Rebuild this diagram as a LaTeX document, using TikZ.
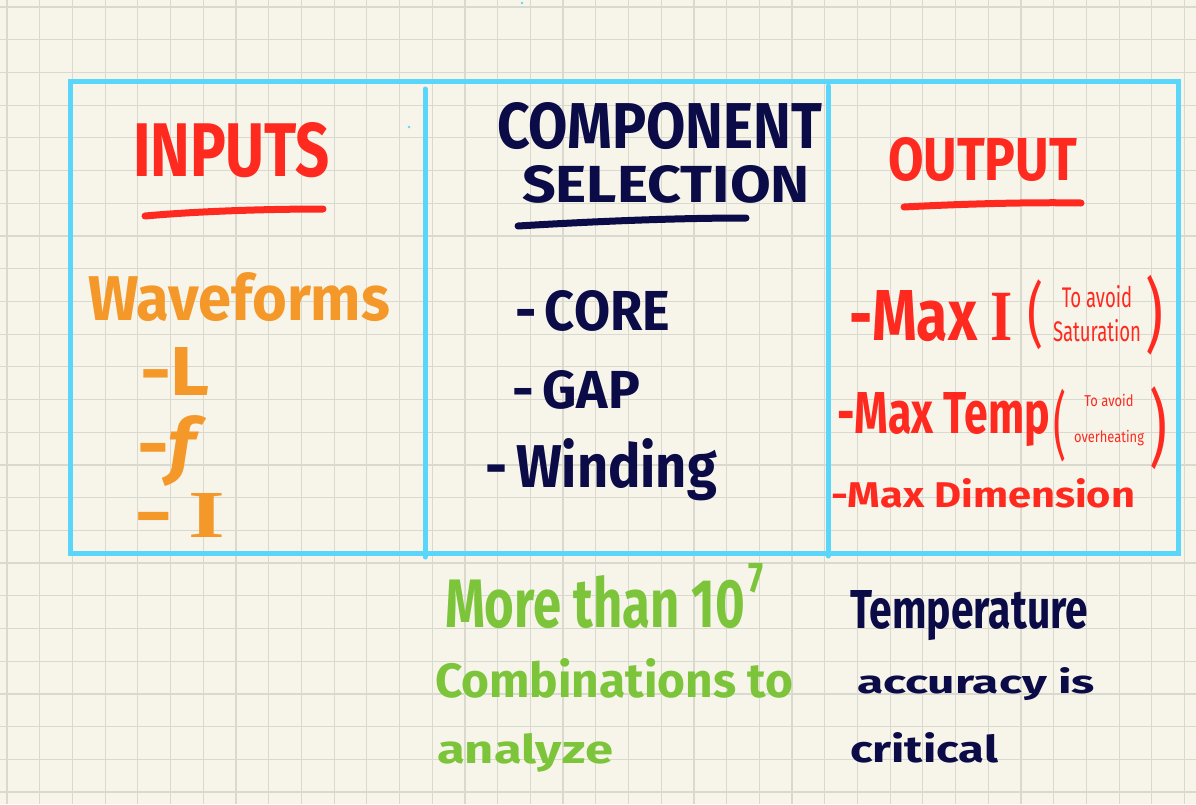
\documentclass[tikz,border=0pt]{standalone}
\usepackage{fontspec}
\setmainfont{Fira Sans}
\newfontfamily\serifI{Liberation Serif}
\usepackage{graphicx}
\definecolor{paper}{HTML}{F7F5EA}
\definecolor{gridc}{HTML}{DAD9CF}
\definecolor{boxblue}{HTML}{5BD6FB}
\definecolor{hred}{HTML}{FF2A1F}
\definecolor{hnavy}{HTML}{0B0B47}
\definecolor{horange}{HTML}{F5982A}
\definecolor{hgreen}{HTML}{7CC43A}
\newcommand{\fit}[3]{\resizebox{#1pt}{#2pt}{#3}}
\newcommand{\fitt}[3]{\resizebox*{#1pt}{#2pt}{#3}}
\begin{document}
\begin{tikzpicture}[x=1pt,y=-1pt,
  gridline/.style={draw=gridc, line width=1.2pt},
  frame/.style={draw=boxblue, line width=5pt, line cap=round},
  txt/.style={anchor=base west, inner sep=0pt, outer sep=0pt, font=\bfseries},
  note/.style={anchor=center, inner sep=0pt, outer sep=0pt, font=\mdseries, text=hred},
  paren/.style={anchor=center, inner sep=0pt, outer sep=0pt, font=\mdseries, text=hred},
  uline/.style={line width=7pt, line cap=round}]
\useasboundingbox (0,0) rectangle (1196,804);
\fill[paper] (0,0) rectangle (1196,804);
\foreach \k in {0,...,36} \draw[gridline] ({7+32.71*\k},0) -- ({7+32.71*\k},804);
\foreach \k in {0,...,24} \draw[gridline] (0,{7+32.71*\k}) -- (1196,{7+32.71*\k});
% frame
\draw[frame, line cap=butt] (70,81) rectangle (1178,553);
\draw[frame] (425,89) -- (425,557);
\draw[frame] (828,86) -- (828,556);
\fill[boxblue] (522,3) circle (1.3);
\fill[boxblue] (409,127) circle (1.3);
% inputs column
\node[txt, text=hred] (inputs) at (133,176) {\fit{197}{54}{INPUTS}};
\draw[uline, hred] (145,216) .. controls (200,211) and (270,209) .. (323,209);
\node[txt, text=horange] (wave) at (88,320) {\fit{302}{48}{Waveforms}};
\node[txt, text=horange] (inL) at (140,395) {\fit{70}{48}{-L}};
\node[txt, text=horange] (inf) at (137,470) {\fit{70}{55}{-\textit{f}}};
\node[txt, text=horange] (inI) at (134,537) {\fit{91}{44}{-\,{\serifI\bfseries I}}};
% component column
\node[txt, text=hnavy] (comp) at (497,148) {\fit{325}{46}{COMPONENT}};
\node[txt, text=hnavy] (sel) at (522,202) {\fit{288}{37}{SELECTION}};
\draw[uline, hnavy] (518,226) .. controls (600,221) and (680,218) .. (746,218);
\node[txt, text=hnavy] (core) at (515,330) {\fit{155}{40}{-\,CORE}};
\node[txt, text=hnavy] (gap) at (512,408) {\fit{128}{38}{-\,GAP}};
\node[txt, text=hnavy] (wind) at (485,487) {\fit{232}{49}{-\,Winding}};
% output column
\node[txt, text=hred] (output) at (888,180) {\fit{189}{43}{OUTPUT}};
\draw[uline, hred] (904,207) .. controls (960,204) and (1030,202) .. (1081,203);
\node[txt, text=hred] (maxi) at (849,340) {\fit{164}{50}{-Max {\serifI\bfseries I}}};
\node[paren] (p1) at (1035,315) {\fitt{16}{70}{(}};
\node[note] (sat) at (1097,318) {\fitt{88}{68}{\begin{tabular}{@{}c@{}}To avoid\\Saturation\end{tabular}}};
\node[paren] (p2) at (1154,315) {\fitt{18}{80}{)}};
\node[txt, text=hred] (maxt) at (837,433) {\fit{213}{41}{-Max Temp}};
\node[paren] (p3) at (1060,426) {\fitt{13}{73}{(}};
\node[note] (over) at (1109,421) {\fitt{70}{55}{\begin{tabular}{@{}c@{}}To avoid\\[11pt]overheating\end{tabular}}};
\node[paren] (p4) at (1158,428) {\fitt{18}{83}{)}};
\node[txt, text=hred] (maxd) at (831,507) {\fit{304}{29}{-Max Dimension}};
% notes below
\node[txt, text=hgreen] (more) at (445,627) {\fit{300}{52}{More than 10}};
\node[txt, text=hgreen] (seven) at (748,592) {\fit{15}{29}{7}};
\node[txt, text=hgreen] (comb) at (435,697) {\fit{358}{39}{Combinations to}};
\node[txt, text=hgreen] (anal) at (437,763) {\fit{176}{30}{analyze}};
\node[txt, text=hnavy] (temp) at (850,628) {\fit{238}{38}{Temperature}};
\node[txt, text=hnavy] (acc) at (857,693) {\fit{238}{26}{accuracy is}};
\node[txt, text=hnavy] (crit) at (850,762) {\fit{148}{30}{critical}};
\end{tikzpicture}
\end{document}
